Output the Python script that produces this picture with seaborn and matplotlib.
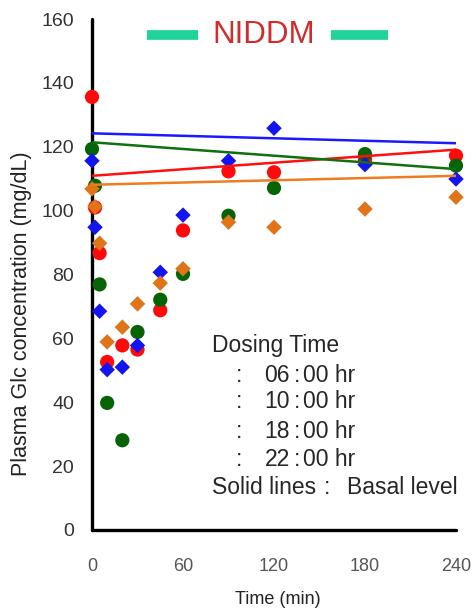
import matplotlib
matplotlib.use("Agg")
import matplotlib.pyplot as plt
import seaborn as sns
import pandas as pd
from matplotlib.lines import Line2D

# ---------------- data ----------------
time_min = [0, 2, 5, 10, 20, 30, 45, 60, 90, 120, 180, 240]
glc_0600 = [135.6, 101.0, 86.7, 52.6, 57.8, 56.5, 68.8, 93.8, 112.3, 112.0, 116.0, 117.2]   # red circles
glc_1800 = [119.3, 107.8, 76.9, 39.8, 28.1, 62.0, 72.1, 80.2, 98.4, 107.1, 117.7, 114.1]   # green circles
glc_1000 = [115.6, 94.8, 68.5, 50.2, 51.0, 57.8, 80.7, 98.6, 115.6, 125.8, 114.4, 109.9]   # blue diamonds
glc_2200 = [106.8, 101.2, 89.8, 58.9, 63.5, 70.8, 77.3, 81.8, 96.4, 94.8, 100.5, 104.2]    # orange diamonds

basal_time = [0, 240]
basal_0600 = [110.9, 119.1]
basal_1800 = [121.4, 113.0]
basal_1000 = [124.2, 121.1]
basal_2200 = [108.1, 110.9]

series_order = ["06:00", "18:00", "10:00", "22:00"]
x_ticks = [0, 60, 120, 180, 240]
y_ticks = [0, 20, 40, 60, 80, 100, 120, 140, 160]
legend_times = ["06", "10", "18", "22"]

# ---------------- frames ----------------
obs = pd.concat([
    pd.DataFrame({"time": time_min, "glc": g, "dose": d})
    for d, g in zip(series_order, [glc_0600, glc_1800, glc_1000, glc_2200])
], ignore_index=True)
basal = pd.concat([
    pd.DataFrame({"time": basal_time, "glc": g, "dose": d})
    for d, g in zip(series_order, [basal_0600, basal_1800, basal_1000, basal_2200])
], ignore_index=True)

pt_pal = {"06:00": "#ff0a0a", "18:00": "#066406", "10:00": "#1414f0", "22:00": "#df7418"}
ln_pal = {"06:00": "#ff1010", "18:00": "#0f700f", "10:00": "#1a1aff", "22:00": "#ee7d22"}
markers = {"06:00": "o", "18:00": "o", "10:00": "D", "22:00": "D"}
sizes = {"06:00": 105, "18:00": 105, "10:00": 62, "22:00": 62}

sns.set_style("white")
plt.rcParams["font.family"] = ["Liberation Sans", "Noto Sans CJK JP", "DejaVu Sans"]

W, H = 472, 613
fig = plt.figure(figsize=(W / 100, H / 100), dpi=100)
ax = fig.add_axes([92 / W, 1 - 530 / H, (456 - 92) / W, (530 - 19) / H])

sns.scatterplot(data=obs, x="time", y="glc", hue="dose", style="dose", size="dose",
                hue_order=series_order, palette=pt_pal, markers=markers, sizes=sizes,
                linewidth=0, legend=False, ax=ax, clip_on=False, zorder=3)
sns.lineplot(data=basal, x="time", y="glc", hue="dose", hue_order=series_order,
             palette=ln_pal, estimator=None, linewidth=1.8, legend=False, ax=ax, zorder=4)

ax.set_xlim(0, 240)
ax.set_ylim(0, 160)
ax.set_xticks(x_ticks)
ax.set_yticks(y_ticks)
sns.despine(ax=ax)
for s in ["left", "bottom"]:
    ax.spines[s].set_linewidth(2.4)
    ax.spines[s].set_color("black")
    ax.spines[s].set_zorder(1)
    ax.spines[s].set_capstyle("round")

ax.tick_params(axis="y", direction="out", length=4, width=1.5, pad=9,
               labelsize=14, labelcolor="#333333", color="black")
ax.tick_params(axis="x", direction="in", length=4, width=1.5, pad=20,
               labelsize=13, labelcolor="#555555", color="black")

ax.set_ylabel("Plasma Glc concentration (mg/dL)", fontsize=15.5, color="#222222")
ax.yaxis.label.set_va("center")
ax.yaxis.set_label_coords((21.5 - 92) / 364, (530 - 314) / 511)
ax.set_xlabel("Time (min)", fontsize=13, color="#222222")
ax.xaxis.label.set_va("center")
ax.xaxis.set_label_coords((278 - 92) / 364, (530 - 600) / 511)


def fx(px):
    return px / W


def fy(py):
    return 1 - py / H


# title with green bars
fig.text(fx(263.5), fy(35), "NIDDM", color="#d42a2a", fontsize=22.5, ha="center", va="center")
for x0, x1 in [(147, 198), (331, 388)]:
    fig.add_artist(Line2D([fx(x0), fx(x1)], [fy(35), fy(35)], transform=fig.transFigure,
                          color="#1fd39a", linewidth=7, solid_capstyle="butt"))

# legend text block
fs = 16.5
fig.text(fx(211.7), fy(345), "Dosing Time", fontsize=fs, ha="left", va="center")
row_y = [375, 402, 431, 460]
for t, yy in zip(legend_times, row_y):
    fig.text(fx(239.3), fy(yy), ":", fontsize=fs, ha="center", va="center")
    fig.text(fx(290), fy(yy), t, fontsize=fs, ha="right", va="center")
    fig.text(fx(296.7), fy(yy), ":", fontsize=fs, ha="center", va="center")
    fig.text(fx(303.3), fy(yy), "00 hr", fontsize=fs, ha="left", va="center")
fig.text(fx(211.7), fy(488), "Solid lines", fontsize=fs, ha="left", va="center")
fig.text(fx(326.7), fy(488), ":", fontsize=fs, ha="center", va="center")
fig.text(fx(346.7), fy(488), "Basal level", fontsize=fs, ha="left", va="center")

fig.savefig("out.png", dpi=100)
